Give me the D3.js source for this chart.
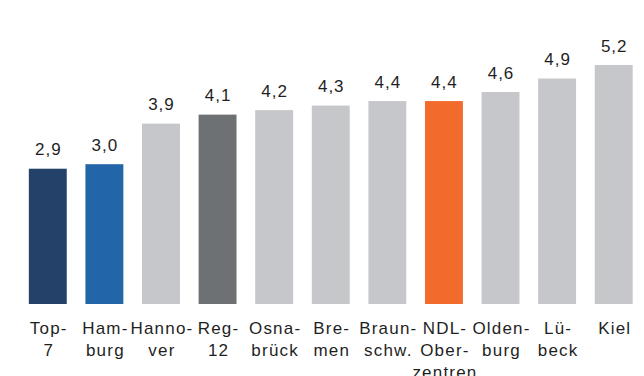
<!DOCTYPE html>
<html>
<head>
<meta charset="utf-8">
<script src="https://cdn.jsdelivr.net/npm/d3@7"></script>
<style>
  html, body { margin: 0; padding: 0; background: #ffffff; }
  svg { display: block; }
  text { font-family: "Liberation Sans", Arial, sans-serif; fill: #1f1f1f; }
</style>
</head>
<body>
<svg id="chart" width="644" height="376"></svg>
<script>
// Category labels (line breaks marked with \n)
const categories = [
  "Top-\n7", "Ham-\nburg", "Hanno-\nver", "Reg-\n12", "Osna-\nbrück",
  "Bre-\nmen", "Braun-\nschw.", "NDL-\nOber-\nzentren", "Olden-\nburg",
  "Lü-\nbeck", "Kiel"
];
const values = [2.9, 3.0, 3.9, 4.1, 4.2, 4.3, 4.4, 4.4, 4.6, 4.9, 5.2];
const valueLabels = ["2,9", "3,0", "3,9", "4,1", "4,2", "4,3", "4,4", "4,4", "4,6", "4,9", "5,2"];
const barColors = [
  "#24416a", "#2265a8", "#c6c7ca", "#6e7174", "#c6c7ca",
  "#c6c7ca", "#c6c7ca", "#f26a2c", "#c6c7ca", "#c6c7ca", "#c6c7ca"
];

const svg = d3.select("#chart");

const x = d3.scaleBand()
  .domain(categories)
  .range([19.5, 642])
  .paddingInner(0.33)
  .paddingOuter(0.165);

const y = d3.scaleLinear()
  .domain([-0.1, 5.2])
  .range([304, 65]);

const data = categories.map((c, i) => ({ c, v: values[i], label: valueLabels[i], color: barColors[i] }));

// Bars
svg.append("g")
  .selectAll("rect")
  .data(data)
  .join("rect")
  .attr("x", d => x(d.c))
  .attr("width", x.bandwidth())
  .attr("y", d => y(d.v))
  .attr("height", d => y(-0.1) - y(d.v))
  .attr("fill", d => d.color);

// Value labels above bars
svg.append("g")
  .selectAll("text")
  .data(data)
  .join("text")
  .attr("x", d => x(d.c) + x.bandwidth() / 2 + 0.5)
  .attr("y", d => y(d.v) - 13.5)
  .attr("text-anchor", "middle")
  .style("font-size", "17px")
  .style("letter-spacing", "1px")
  .text(d => d.label);

// Category axis labels (multi-line)
const xAxis = svg.append("g")
  .attr("transform", "translate(0,304)")
  .call(d3.axisBottom(x).tickSize(0).tickPadding(0).tickFormat(""));
xAxis.select(".domain").remove();

const catLabels = svg.append("g")
  .selectAll("text")
  .data(data)
  .join("text")
  .attr("x", d => x(d.c) + x.bandwidth() / 2 + 1)
  .attr("y", 334)
  .attr("text-anchor", "middle")
  .style("font-size", "17px")
  .style("letter-spacing", "1.2px");

catLabels.each(function(d) {
  const lines = d.c.split("\n");
  const t = d3.select(this);
  lines.forEach((ln, i) => {
    t.append("tspan")
      .attr("x", x(d.c) + x.bandwidth() / 2 + 1)
      .attr("dy", i === 0 ? 0 : 22)
      .text(ln);
  });
});
</script>
</body>
</html>
